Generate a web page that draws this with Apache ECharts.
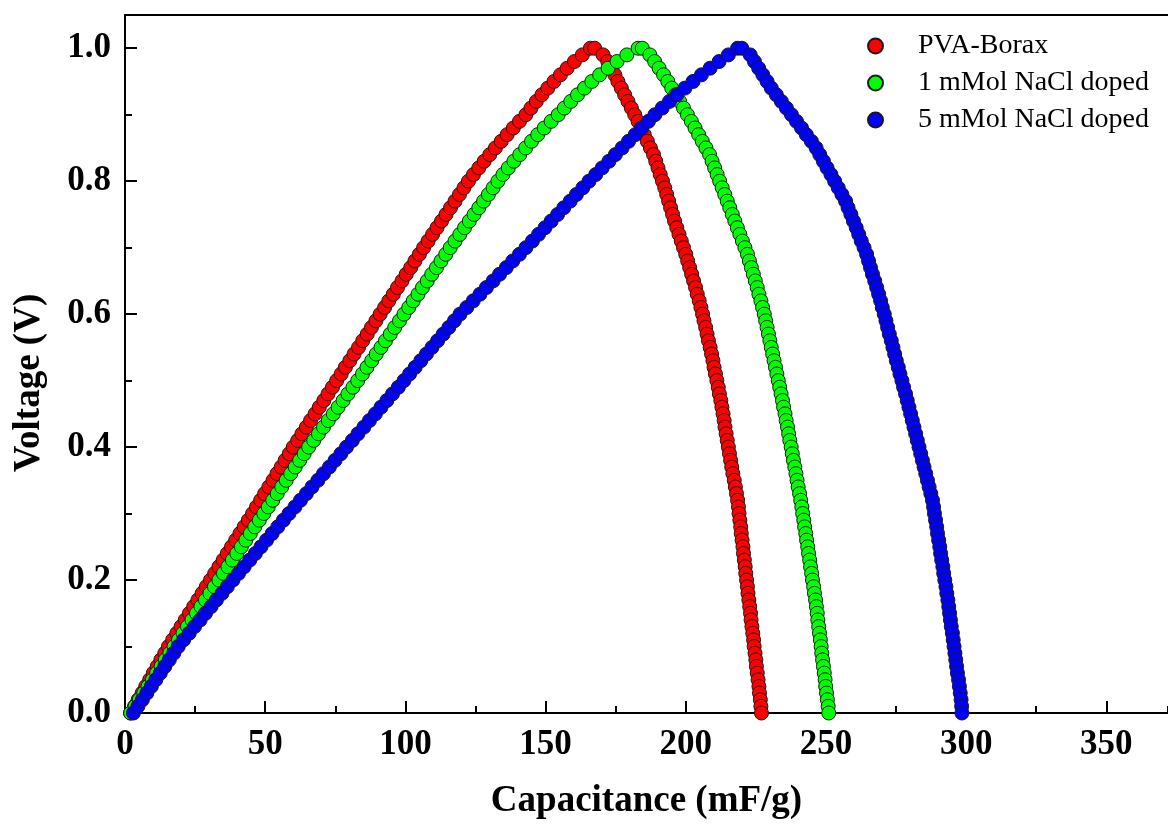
<!DOCTYPE html>
<html>
<head>
<meta charset="utf-8">
<script src="https://cdn.jsdelivr.net/npm/echarts@6/dist/echarts.min.js"></script>
<style>
  html, body { margin: 0; padding: 0; background: #fff; }
  #main { width: 1168px; height: 825px; }
</style>
</head>
<body>
<div id="main"></div>
<script>
// voltage levels at which each curve was read (V)
const voltage = [
  0.00, 0.01, 0.02, 0.03, 0.04, 0.05, 0.06, 0.07, 0.08, 0.09, 0.10,
  0.11, 0.12, 0.13, 0.14, 0.15, 0.16, 0.17, 0.18, 0.19, 0.20,
  0.21, 0.22, 0.23, 0.24, 0.25, 0.26, 0.27, 0.28, 0.29, 0.30,
  0.31, 0.32, 0.33, 0.34, 0.35, 0.36, 0.37, 0.38, 0.39, 0.40,
  0.41, 0.42, 0.43, 0.44, 0.45, 0.46, 0.47, 0.48, 0.49, 0.50,
  0.51, 0.52, 0.53, 0.54, 0.55, 0.56, 0.57, 0.58, 0.59, 0.60,
  0.61, 0.62, 0.63, 0.64, 0.65, 0.66, 0.67, 0.68, 0.69, 0.70,
  0.71, 0.72, 0.73, 0.74, 0.75, 0.76, 0.77, 0.78, 0.79, 0.80,
  0.81, 0.82, 0.83, 0.84, 0.85, 0.86, 0.87, 0.88, 0.89, 0.90,
  0.91, 0.92, 0.93, 0.94, 0.95, 0.96, 0.97, 0.98, 0.99, 1.00
]

// capacitance (mF/g) on the charge and discharge branch, same order as voltage
const boraxCharge = [
  2.0, 3.4, 4.7, 6.1, 7.4, 8.8, 10.1, 11.5, 12.8, 14.2, 15.5,
  17.0, 18.5, 20.0, 21.5, 23.0, 24.5, 26.0, 27.5, 29.0, 30.5,
  32.0, 33.5, 35.0, 36.5, 38.0, 39.5, 41.0, 42.5, 44.0, 45.5,
  46.9, 48.4, 49.8, 51.3, 52.8, 54.2, 55.7, 57.1, 58.6, 60.0,
  61.6, 63.1, 64.7, 66.2, 67.8, 69.3, 70.9, 72.4, 74.0, 75.5,
  77.1, 78.6, 80.2, 81.7, 83.3, 84.8, 86.4, 87.9, 89.5, 91.0,
  92.6, 94.1, 95.7, 97.2, 98.8, 100.3, 101.9, 103.4, 105.0, 106.5,
  108.1, 109.7, 111.3, 112.9, 114.5, 116.1, 117.7, 119.3, 120.9, 122.5,
  124.3, 126.2, 128.1, 130.1, 132.1, 134.2, 136.3, 138.5, 140.7, 143.0,
  144.8, 146.7, 148.7, 150.8, 153.0, 155.3, 157.7, 160.3, 163.1, 166.0
]
const boraxDischarge = [
  227.0, 226.8, 226.6, 226.3, 226.1, 225.8, 225.5, 225.2, 225.0, 224.7, 224.4,
  224.2, 223.9, 223.6, 223.3, 223.1, 222.8, 222.5, 222.2, 222.0, 221.7,
  221.4, 221.2, 220.9, 220.6, 220.4, 220.1, 219.8, 219.6, 219.3, 219.0,
  218.8, 218.5, 218.1, 217.7, 217.3, 216.8, 216.4, 216.0, 215.6, 215.2,
  214.8, 214.4, 214.0, 213.7, 213.3, 212.9, 212.5, 212.0, 211.6, 211.1,
  210.6, 210.1, 209.7, 209.2, 208.7, 208.1, 207.6, 207.1, 206.5, 206.0,
  205.4, 204.8, 204.1, 203.5, 202.8, 202.1, 201.4, 200.7, 200.0, 199.2,
  198.4, 197.6, 196.8, 196.0, 195.3, 194.6, 193.9, 193.2, 192.5, 191.7,
  190.9, 190.1, 189.3, 188.5, 187.4, 186.3, 185.2, 184.1, 183.0, 181.8,
  180.6, 179.4, 178.2, 177.0, 175.8, 174.7, 173.5, 172.2, 170.5, 167.5
]
const nacl1Charge = [
  2.0, 3.6, 5.1, 6.7, 8.2, 9.8, 11.3, 12.9, 14.4, 16.0, 17.5,
  19.1, 20.7, 22.3, 23.9, 25.5, 27.1, 28.7, 30.3, 31.9, 33.5,
  35.1, 36.7, 38.3, 39.9, 41.5, 43.1, 44.7, 46.3, 47.9, 49.5,
  51.1, 52.7, 54.3, 55.9, 57.5, 59.1, 60.7, 62.3, 63.9, 65.5,
  67.3, 69.0, 70.8, 72.5, 74.3, 76.0, 77.8, 79.5, 81.3, 83.0,
  84.7, 86.3, 88.0, 89.6, 91.3, 92.9, 94.6, 96.2, 97.9, 99.5,
  101.2, 102.8, 104.5, 106.1, 107.8, 109.4, 111.1, 112.7, 114.4, 116.0,
  117.7, 119.4, 121.1, 122.8, 124.5, 126.2, 127.9, 129.6, 131.3, 133.0,
  134.8, 136.7, 138.7, 140.8, 142.9, 145.0, 147.2, 149.5, 152.0, 154.5,
  156.7, 159.0, 161.4, 163.9, 166.5, 169.3, 172.3, 175.5, 179.0, 183.0
]
const nacl1Discharge = [
  251.0, 250.8, 250.5, 250.2, 249.9, 249.7, 249.4, 249.1, 248.8, 248.5, 248.3,
  248.0, 247.7, 247.4, 247.1, 246.9, 246.6, 246.3, 245.9, 245.6, 245.2,
  244.9, 244.5, 244.2, 243.8, 243.5, 243.1, 242.8, 242.4, 242.1, 241.7,
  241.4, 241.0, 240.6, 240.1, 239.7, 239.3, 238.9, 238.4, 238.0, 237.6,
  237.1, 236.7, 236.3, 235.8, 235.4, 234.9, 234.5, 234.0, 233.5, 233.0,
  232.5, 232.0, 231.5, 231.0, 230.5, 230.0, 229.5, 229.0, 228.5, 228.0,
  227.4, 226.8, 226.1, 225.5, 224.8, 224.1, 223.4, 222.7, 222.0, 221.1,
  220.2, 219.3, 218.4, 217.5, 216.6, 215.7, 214.8, 213.9, 213.0, 212.1,
  211.2, 210.3, 209.4, 208.5, 207.2, 205.9, 204.6, 203.3, 202.0, 200.6,
  199.2, 197.8, 196.4, 195.0, 193.6, 192.1, 190.5, 188.9, 187.2, 184.5
]
const nacl5Charge = [
  3.0, 4.6, 6.2, 7.8, 9.4, 11.0, 12.6, 14.2, 15.8, 17.4, 19.0,
  20.9, 22.9, 24.8, 26.8, 28.7, 30.7, 32.6, 34.6, 36.5, 38.5,
  40.5, 42.5, 44.5, 46.5, 48.5, 50.5, 52.5, 54.5, 56.5, 58.5,
  60.6, 62.6, 64.7, 66.7, 68.8, 70.8, 72.9, 74.9, 77.0, 79.0,
  81.1, 83.1, 85.2, 87.2, 89.3, 91.3, 93.4, 95.4, 97.5, 99.5,
  101.5, 103.5, 105.5, 107.5, 109.5, 111.5, 113.5, 115.5, 117.5, 119.5,
  121.9, 124.2, 126.6, 128.9, 131.3, 133.6, 136.0, 138.3, 140.7, 143.0,
  145.3, 147.5, 149.8, 152.0, 154.3, 156.5, 158.8, 161.0, 163.3, 165.5,
  167.9, 170.2, 172.6, 174.9, 177.3, 179.6, 182.0, 184.3, 186.7, 189.0,
  191.6, 194.2, 196.9, 199.7, 202.6, 205.6, 208.7, 211.9, 215.2, 218.5
]
const nacl5Discharge = [
  298.5, 298.4, 298.2, 297.9, 297.6, 297.3, 296.9, 296.6, 296.3, 296.0, 295.7,
  295.4, 295.1, 294.7, 294.4, 294.1, 293.8, 293.5, 293.1, 292.8, 292.4,
  292.0, 291.7, 291.3, 290.9, 290.6, 290.2, 289.8, 289.5, 289.1, 288.7,
  288.4, 288.0, 287.4, 286.8, 286.2, 285.6, 285.0, 284.4, 283.8, 283.2,
  282.6, 282.0, 281.4, 280.8, 280.2, 279.6, 279.0, 278.4, 277.7, 277.1,
  276.4, 275.8, 275.1, 274.5, 273.9, 273.3, 272.6, 272.0, 271.4, 270.8,
  270.1, 269.5, 268.8, 268.1, 267.4, 266.6, 265.9, 265.2, 264.5, 263.6,
  262.6, 261.7, 260.8, 259.8, 258.9, 257.9, 257.0, 255.7, 254.4, 253.1,
  251.8, 250.4, 249.1, 247.8, 246.5, 244.8, 243.0, 241.3, 239.5, 237.7,
  235.9, 234.1, 232.3, 230.5, 229.0, 227.5, 226.0, 224.5, 223.0, 220.0
]

const seriesNames = ['PVA-Borax', '1 mMol NaCl doped', '5 mMol NaCl doped']

const serif = '"Liberation Serif", "Times New Roman", serif'

// charge going up, then discharge coming back down
function gcdPoints(charge, discharge) {
  const up = voltage.map((v, i) => [charge[i], v])
  const down = voltage.map((v, i) => [discharge[i], v]).reverse()
  return up.concat(down)
}

function makeSeries(name, data, color) {
  return {
    name: name,
    type: 'scatter',
    xAxisIndex: 0,
    yAxisIndex: 0,
    symbol: 'circle',
    symbolSize: 14,
    itemStyle: { color: color, borderColor: '#1a1a1a', borderWidth: 1, opacity: 1 },
    emphasis: { disabled: true },
    data: data
  }
}

const black = { color: '#000', width: 2 }

const myChart = echarts.init(document.getElementById('main'))

const option = {
  animation: false,
  backgroundColor: '#fff',
  grid: { left: 125, right: 0, top: 15, bottom: 112 },
  legend: {
    orient: 'vertical',
    left: 862,
    top: 27,
    itemWidth: 15,
    itemHeight: 15,
    itemGap: 9,
    icon: 'circle',
    data: seriesNames,
    textStyle: { color: '#000', fontFamily: serif, fontSize: 28, padding: [0, 0, 0, 30] }
  },
  xAxis: [
    {
      type: 'value',
      position: 'bottom',
      min: 0,
      max: 372,
      interval: 50,
      name: 'Capacitance (mF/g)',
      nameLocation: 'middle',
      nameGap: 70,
      nameTextStyle: { color: '#000', fontFamily: serif, fontWeight: 'bold', fontSize: 37 },
      axisLine: { show: true, onZero: false, lineStyle: black },
      axisTick: { show: true, inside: true, length: 12, lineStyle: black },
      splitLine: { show: false },
      axisLabel: {
        color: '#000', fontFamily: serif, fontWeight: 'bold', fontSize: 35, margin: 14,
        showMaxLabel: false
      }
    },
    {
      // minor ticks every 25
      type: 'value',
      position: 'bottom',
      min: 0,
      max: 372,
      interval: 25,
      axisLine: { show: false, onZero: false },
      axisTick: { show: true, inside: true, length: 7, lineStyle: black },
      axisLabel: { show: false },
      splitLine: { show: false }
    },
    {
      // top frame line
      type: 'value',
      position: 'top',
      min: 0,
      max: 372,
      axisLine: { show: true, onZero: false, lineStyle: black },
      axisTick: { show: false },
      axisLabel: { show: false },
      splitLine: { show: false }
    }
  ],
  yAxis: [
    {
      type: 'value',
      position: 'left',
      min: 0,
      max: 1.05,
      interval: 0.2,
      name: 'Voltage (V)',
      nameLocation: 'middle',
      nameGap: 77,
      nameTextStyle: {
        color: '#000', fontFamily: serif, fontWeight: 'bold', fontSize: 37,
        padding: [0, 38, 0, 0]
      },
      axisLine: { show: true, onZero: false, lineStyle: black },
      axisTick: { show: true, inside: true, length: 12, lineStyle: black },
      splitLine: { show: false },
      axisLabel: {
        color: '#000', fontFamily: serif, fontWeight: 'bold', fontSize: 35, margin: 14,
        showMaxLabel: false,
        formatter: (v) => v.toFixed(1)
      }
    },
    {
      // minor ticks every 0.1
      type: 'value',
      position: 'left',
      min: 0,
      max: 1.05,
      interval: 0.1,
      axisLine: { show: false, onZero: false },
      axisTick: { show: true, inside: true, length: 7, lineStyle: black },
      axisLabel: { show: false },
      splitLine: { show: false }
    }
  ],
  series: [
    makeSeries(seriesNames[0], gcdPoints(boraxCharge, boraxDischarge), '#ff0000'),
    makeSeries(seriesNames[1], gcdPoints(nacl1Charge, nacl1Discharge), '#00ff00'),
    makeSeries(seriesNames[2], gcdPoints(nacl5Charge, nacl5Discharge), '#0000ff')
  ]
}

myChart.setOption(option)
</script>
</body>
</html>
